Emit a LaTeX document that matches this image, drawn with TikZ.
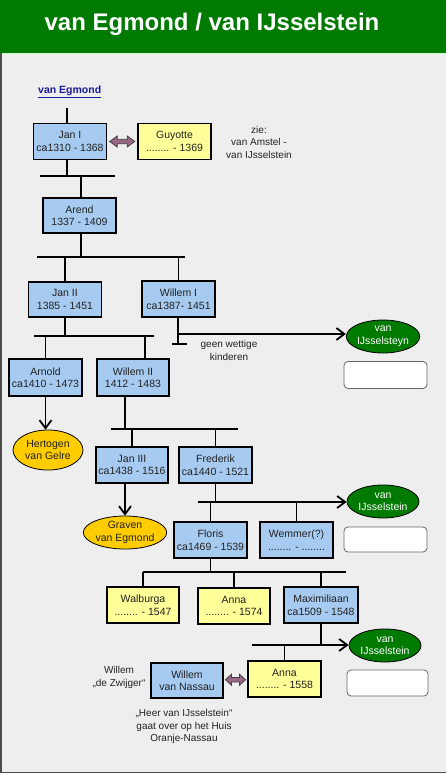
\documentclass[tikz,border=0pt]{standalone}
\usepackage{fontspec}
\setmainfont{Liberation Sans}
\usetikzlibrary{arrows.meta,calc,shapes.geometric}
\definecolor{hdrgreen}{HTML}{007A00}
\definecolor{ellgreen}{HTML}{007A00}
\definecolor{bg}{HTML}{EEEEEE}
\definecolor{pblue}{HTML}{A6CAF0}
\definecolor{pyellow}{HTML}{FFFF99}
\definecolor{gold}{HTML}{FFCC00}
\definecolor{mauve}{HTML}{996685}
\definecolor{txt}{HTML}{222222}
\definecolor{linkblue}{HTML}{1A1A99}
\newcommand\bxfont{\fontsize{10.5}{12.5}\selectfont}
\newcommand\lbfont{\fontsize{10}{12.5}\selectfont}
\tikzset{
  pbox/.style={draw=black, line width=1.8pt, minimum width=73pt, minimum height=36pt,
    inner sep=0pt, align=center, font=\bxfont, text=txt},
  bluebox/.style={pbox, fill=pblue},
  yelbox/.style={pbox, fill=pyellow},
  conn/.style={line width=1.8pt, draw=black},
  arr/.style={conn, -{Straight Barb[length=8pt,width=12pt]}},
  ellnode/.style={ellipse, draw=black, line width=0.8pt, minimum width=72pt,
    minimum height=33pt, inner sep=0pt, align=center, font=\bxfont},
  greenell/.style={ellnode, fill=ellgreen, text=white},
  goldell/.style={ellnode, fill=gold, text=txt},
  wbox/.style={draw=black!60, fill=white, rounded corners=4pt, line width=0.8pt,
    minimum width=83pt, minimum height=27pt, inner sep=0pt},
  dblarr/.style={fill=mauve, draw=black!75, line width=0.8pt},
  lbl/.style={align=center, font=\lbfont, text=txt, inner sep=0pt}
}
\begin{document}
\begin{tikzpicture}[x=1pt,y=-1pt]
\useasboundingbox (0,0) rectangle (446,775);
% background and header
\fill[bg] (0,53) rectangle (446,773);
\fill[hdrgreen] (0,0) rectangle (446,53);
\draw[green!25!white, line width=1pt] (0,53.5) -- (446,53.5);
\draw[black!70, line width=1.5pt] (0.75,53) -- (0.75,772.5) -- (446,772.5);
\node[anchor=base, text=white, font=\fontsize{24}{28}\selectfont\bfseries, inner sep=0pt]
  (title) at (212,31) {van Egmond / van IJsselstein};
\node[anchor=base west, text=linkblue, font=\fontsize{10.5}{12}\selectfont\bfseries, inner sep=0pt]
  (link) at (38,94) {\underline{van Egmond}};

% persons
\node[bluebox] (janI) at (70,141.5) {Jan I\\ca1310 - 1368};
\node[yelbox] (guyotte) at (174.5,141.5) {Guyotte\\........ - 1369};
\node[lbl] (zie) at (259,142) {zie:\\van Amstel -\\van IJsselstein};
\node[bluebox, minimum height=35pt] (arend) at (79.5,215.5) {Arend\\1337 - 1409};
\node[bluebox, minimum height=35pt] (janII) at (65,299.5) {Jan II\\1385 - 1451};
\node[bluebox] (willemI) at (178.5,299) {Willem I\\ca1387- 1451};
\node[bluebox, minimum height=37pt] (arnold) at (45.5,377.5) {Arnold\\ca1410 - 1473};
\node[bluebox, minimum height=37pt, minimum width=72pt] (willemII) at (133,377.5) {Willem II\\1412 - 1483};
\node[bluebox, minimum width=72pt] (janIII) at (132,465) {Jan III\\ca1438 - 1516};
\node[bluebox] (frederik) at (215.5,465) {Frederik\\ca1440 - 1521};
\node[bluebox] (floris) at (210.5,540) {Floris\\ca1469 - 1539};
\node[bluebox] (wemmer) at (296.5,540) {Wemmer(?)\\........ - ........};
\node[yelbox, minimum width=72pt] (walburga) at (143,605) {Walburga\\........ - 1547};
\node[yelbox, minimum width=72pt] (annaA) at (234,606) {Anna\\........ - 1574};
\node[bluebox, minimum width=74pt] (maxi) at (321,605) {Maximiliaan\\ca1509 - 1548};
\node[yelbox] (annaB) at (284.5,679) {Anna\\........ - 1558};
\node[bluebox, minimum width=72pt, minimum height=35pt] (nassau) at (187,680.5) {Willem\\van Nassau};

% ellipses and empty boxes
\node[greenell] (ijsA) at (383,336.5) {van\\IJsselsteyn};
\node[greenell] (ijsB) at (383,501.5) {van\\IJsselstein};
\node[greenell] (ijsC) at (385,645.5) {van\\IJsselstein};
\node[goldell, minimum width=70pt, minimum height=40pt] (gelre) at (48,450) {Hertogen\\van Gelre};
\node[goldell, minimum width=68pt] (graven) at (125,532.5) {Graven\\van Egmond};
\node[wbox] (wA) at (385.5,375) {};
\node[wbox, minimum height=25pt] (wB) at (385.5,539.5) {};
\node[wbox, minimum width=81pt, minimum height=26pt] (wC) at (387.5,683) {};

% labels
\node[lbl] (geen) at (229,350.5) {geen wettige\\kinderen};
\node[lbl] (zwijger) at (119,677.5) {Willem\\„de Zwijger“};
\node[lbl] (heer) at (184,726.5) {„Heer van IJsselstein“\\gaat over op het Huis\\Oranje-Nassau};

% bar coordinates
\coordinate (t0) at (67,108);
\coordinate (b1L) at (40,176);   \coordinate (b1R) at (115,176);
\coordinate (a0) at (81,176);
\coordinate (b2L) at (37,257);   \coordinate (b2R) at (185,257);
\coordinate (b3L) at (34,336);   \coordinate (b3R) at (154,336);
\coordinate (w2t) at (145,336);
\coordinate (w1a) at (178,334);
\coordinate (tL) at (172,344);   \coordinate (tR) at (187,344);
\coordinate (w2b) at (125,396);
\coordinate (b4L) at (111,429);  \coordinate (b4R) at (238,429);
\coordinate (b5L) at (198,502);
\coordinate (b6L) at (143,572);  \coordinate (b6R) at (346,572);
\coordinate (b7L) at (252,645);

% connectors
\draw[conn] (t0) -- (t0 |- janI.north);
\draw[conn] (t0 |- janI.south) -- (t0 |- b1L);
\draw[conn] (b1L) -- (b1R);
\draw[conn] (a0) -- (a0 |- arend.north);
\draw[conn] (a0 |- arend.south) -- (a0 |- b2L);
\draw[conn] (b2L) -- (b2R);
\draw[conn] (janII.north |- b2L) -- (janII.north);
\draw[conn] (willemI.north |- b2L) -- (willemI.north);
\draw[conn] (janII.south) -- (janII.south |- b3L);
\draw[conn] (b3L) -- (b3R);
\draw[conn] (arnold.north |- b3L) -- (arnold.north);
\draw[conn] (w2t) -- (w2t |- willemII.north);
\draw[conn] (w1a |- willemI.south) -- (w1a |- tL);
\draw[conn] (tL) -- (tR);
\draw[arr] (w1a) -- (w1a -| ijsA.west);
\draw[arr] (arnold.south) -- (arnold.south |- gelre.north);
\draw[conn] (w2b) -- (w2b |- b4L);
\draw[conn] (b4L) -- (b4R);
\draw[conn] (janIII.north |- b4L) -- (janIII.north);
\draw[conn] (frederik.north |- b4L) -- (frederik.north);
\draw[arr] (w2b |- janIII.south) -- (graven.north);
\draw[conn] (frederik.south) -- (frederik.south |- b5L);
\draw[arr] (b5L) -- (b5L -| ijsB.west);
\draw[conn] (floris.north |- b5L) -- (floris.north);
\draw[conn] (wemmer.north |- b5L) -- (wemmer.north);
\draw[conn] (floris.south) -- (floris.south |- b6L);
\draw[conn] (b6L) -- (b6R);
\draw[conn] (walburga.north |- b6L) -- (walburga.north);
\draw[conn] (annaA.north |- b6L) -- (annaA.north);
\draw[conn] (maxi.north |- b6L) -- (maxi.north);
\draw[conn] (maxi.south) -- (maxi.south |- b7L);
\draw[arr] (b7L) -- (b7L -| ijsC.west);
\draw[conn] (annaB.north |- b7L) -- (annaB.north);

% marriage double arrows
\path ($(janI.east)!0.5!(guyotte.west)$) coordinate (m1);
\begin{scope}[shift={(m1)}]
\filldraw[dblarr] (-12.5,0) -- (-5,5.5) -- (-5,2.2) -- (5,2.2) -- (5,5.5) -- (12.5,0)
  -- (5,-5.5) -- (5,-2.2) -- (-5,-2.2) -- (-5,-5.5) -- cycle;
\end{scope}
\path ($(nassau.east)!0.5!(annaB.west)$) coordinate (m2);
\begin{scope}[shift={(m2)}]
\filldraw[dblarr] (-10,0) -- (-4,5.5) -- (-4,2.2) -- (4,2.2) -- (4,5.5) -- (10,0)
  -- (4,-5.5) -- (4,-2.2) -- (-4,-2.2) -- (-4,-5.5) -- cycle;
\end{scope}
\end{tikzpicture}
\end{document}
